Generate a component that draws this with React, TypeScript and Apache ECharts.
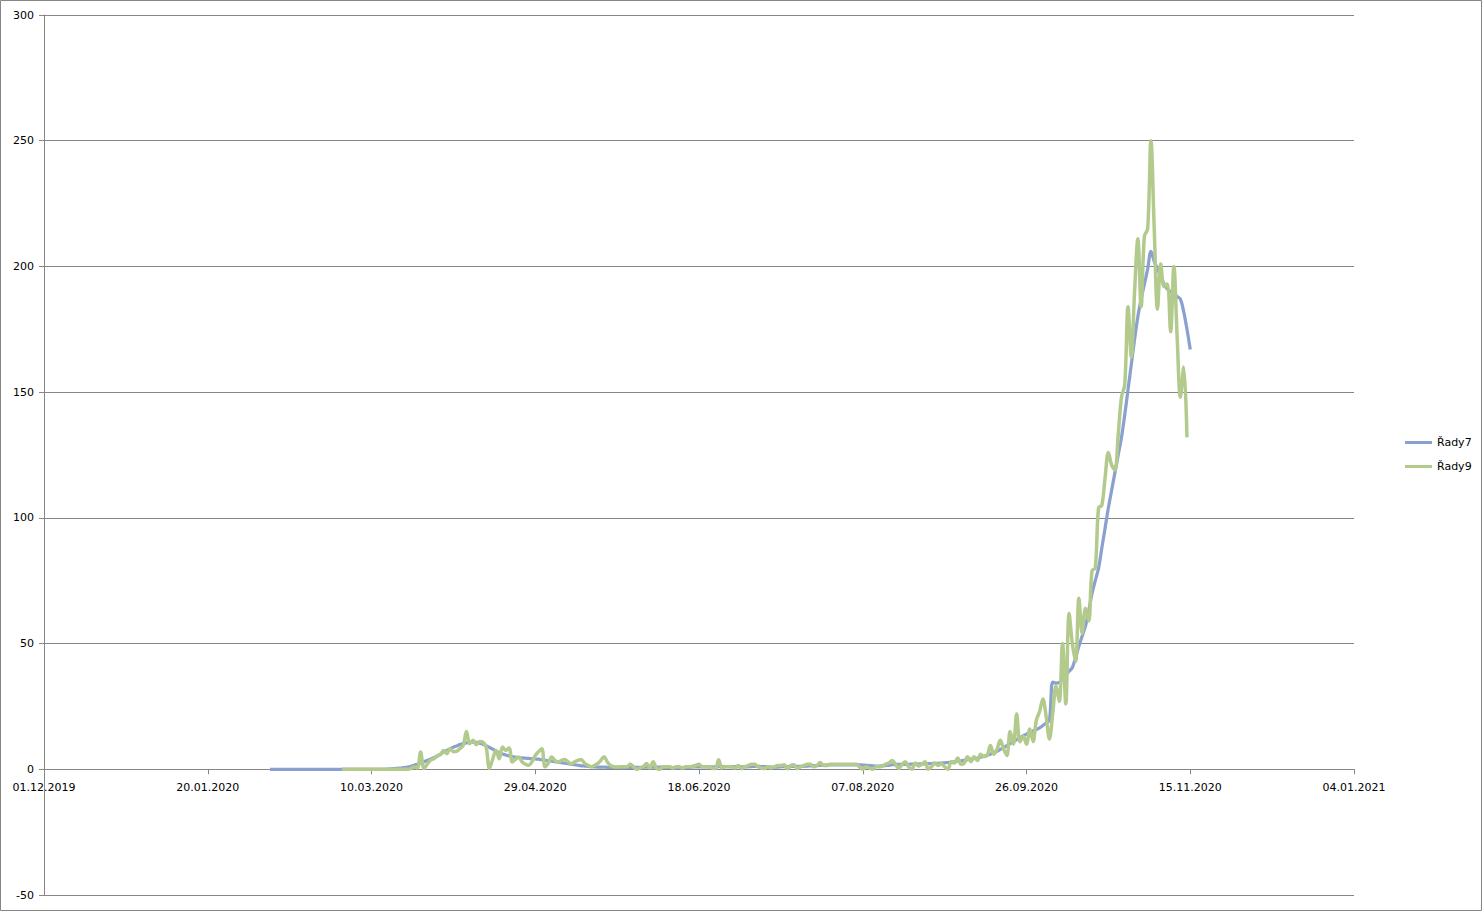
import { useEffect, useRef } from "react";
import * as echarts from "echarts";

// ---- data ----
const seriesNames = ["Řady7", "Řady9"];
const axisOrigin = "2019-12-01";
const xTickDays = 50; // x ticks every 50 days
const xRangeDays = [0, 400]; // 01.12.2019 .. 04.01.2021
const yTicks = [-50, 0, 50, 100, 150, 200, 250, 300];

// Řady7 (7-day average), daily from 08.02.2020
const blueStart = "2020-02-08";
const blueValues = [
  0, 0, 0, 0, 0, 0, 0, 0, 0, 0, 0, 0, 0, 0, 0, 0, 0, 0, 0, 0, 0, 0, 0, 0, 0, 0, 0, 0, 0, 0, 0, 0, 0, 0, 0, 0,
  0.1, 0.2, 0.3, 0.4, 0.5, 0.7, 0.9, 1.2, 1.6, 2, 2.5, 3, 3.5, 4, 4.6, 5.2, 6, 6.8, 7.5, 8.2, 8.8, 9.3, 9.8, 10.2,
  10.5, 10.7, 10.8, 10.7, 10.4, 10, 9.4, 8.7, 8, 7.3, 6.6, 6.1, 5.7, 5.3, 5, 4.8, 4.6, 4.5, 4.4, 4.3, 4.2, 4.1,
  4, 3.8, 3.6, 3.4, 3.2, 3, 2.8, 2.6, 2.4, 2.2, 2, 1.8, 1.6, 1.4, 1.3, 1.2, 1.1, 1, 0.9, 0.9, 0.9, 0.8, 0.8,
  0.8, 0.8, 0.7, 0.7, 0.8, 0.8, 0.8, 0.8, 0.8, 0.8, 0.9, 0.9, 0.9, 0.9, 0.9, 0.8, 0.8, 0.8, 0.7, 0.7, 0.7, 0.7,
  0.8, 0.8, 0.9, 1, 1, 1, 1, 1, 1, 1, 1.1, 1.1, 1.1, 1.1, 1.1, 1.1, 1.1, 1, 1, 1, 1.1, 1.2, 1.2, 1.1, 1.1, 1,
  0.9, 0.9, 0.9, 1, 1.1, 1.1, 1.1, 1.2, 1.2, 1.2, 1.2, 1.3, 1.4, 1.5, 1.5, 1.6, 1.7, 1.7, 1.8, 1.8, 1.8, 1.8,
  1.8, 1.8, 1.8, 1.8, 1.8, 1.8, 1.7, 1.6, 1.5, 1.4, 1.3, 1.3, 1.4, 1.5, 1.6, 1.8, 1.9, 2, 2, 2, 2, 2.1, 2.1,
  2.1, 2.2, 2.2, 2.3, 2.3, 2.4, 2.4, 2.5, 2.6, 2.7, 2.8, 3, 3.2, 3.4, 3.6, 3.8, 4, 4.2, 4.5, 4.8, 5.2, 5.6, 6,
  6.6, 7.2, 7.9, 8.6, 9.4, 10.2, 11, 11.8, 12.6, 13.3, 14, 14.6, 15.2, 15.8, 16.5, 17.4, 18.4, 19.5, 34.7,
  34.3, 34.5, 36, 37.5, 39, 40.5, 44.5, 49, 53, 57, 63, 70, 75, 80, 88, 96, 104, 111, 118, 125, 132, 141, 151,
  161, 171, 180, 187, 193, 199, 206, 202, 199, 196, 193, 191, 190, 189, 188, 187, 182, 175, 167,
];

// Řady9 (daily), from 01.03.2020
const greenStart = "2020-03-01";
const greenValues = [
  0, 0, 0, 0, 0, 0, 0, 0, 0, 0, 0, 0, 0, 0, 0, 0, 0, 0, 0, 0, 0,
  0.3, 0.9, 0.5, 6.9, 0.3, 2, 3.6, 4.2, 5.3, 5.8, 7.5, 6.2, 8.2, 7, 7.2, 8.2, 9.5, 15, 10.2, 11.5, 9.8, 11.1,
  10.8, 8.9, 0.3, 4, 7.5, 4.2, 8.9, 7.5, 8.5, 2.9, 4, 4.9, 2.9, 2, 1.6, 3, 5.5, 7, 8.2, 1, 2.5, 4.9, 3.5, 2.9,
  3.5, 3.9, 3, 2.2, 2.9, 3.5, 3.9, 2.5, 1.6, 1, 1.5, 2.2, 3.5, 5, 2.9, 1.5, 1, 0.9, 1, 1, 1, 2, 1, 0, 0.5, 1,
  2.3, 0.5, 3, 0.5, 0, 1, 1, 1, 0.5, 1, 1, 0.5, 1, 1, 1.2, 1.5, 2, 1, 1, 1, 0.5, 0.3, 3.8, 0.5, 1, 1, 1, 0.5,
  1.5, 0.2, 1, 1.5, 2, 2, 1, 0.5, 0.3, 1, 0.5, 1, 1.5, 1.5, 1.8, 0.2, 1.5, 1.8, 0.2, 1, 1.5, 2, 2, 1, 1.5, 2.7,
  1.5, 1.5, 2, 2, 2, 2, 2, 2, 2, 2, 2, 1, 0, 1, 0.5, 0, 1, 1, 1.3, 2, 2.5, 3.5, 2, 0.3, 2, 3, 1, 0, 2.5, 1.3,
  2, 3, 0, 1, 2.5, 1.5, 2.2, 1, 0, 3, 2.5, 4.5, 2, 2.5, 5, 3, 5, 3.5, 6, 5, 5.5, 9.5, 6, 8, 11.5, 8, 5.5, 15,
  10, 22, 11, 13, 10, 16, 11, 19.5, 23, 28, 21, 12, 22, 33, 27, 50, 26, 62, 50, 43, 68, 54, 64, 59, 79, 80,
  104, 105, 116, 126, 121, 119, 133, 148, 153, 184, 164, 190, 211, 184, 212, 215, 250, 215, 183, 201, 192,
  193, 174, 200, 172, 148, 160, 132,
];

// ---- helpers ----
const DAY_MS = 86400000;
function toUtc(iso: string): number {
  const [y, m, d] = iso.split("-").map(Number);
  return Date.UTC(y, m - 1, d);
}
const originMs = toUtc(axisOrigin);
function dayOffset(iso: string): number {
  return Math.round((toUtc(iso) - originMs) / DAY_MS);
}
function pad(n: number): string {
  return n < 10 ? "0" + n : String(n);
}
function formatDay(d: number): string {
  const dt = new Date(originMs + d * DAY_MS);
  return pad(dt.getUTCDate()) + "." + pad(dt.getUTCMonth() + 1) + "." + dt.getUTCFullYear();
}
function toPairs(start: string, values: number[]): [number, number][] {
  const s = dayOffset(start);
  return values.map((v, i) => [s + i, v]);
}

const GRAY = "#868686";
const FONT = "DejaVu Sans";
const GRID_TOP = 15;
const GRID_BOTTOM_Y = 895;
const W = 1482;
const H = 911;

export default function App() {
  const ref = useRef<HTMLDivElement>(null);
  useEffect(() => {
    if (!ref.current) return;
    const chart = echarts.init(ref.current, undefined, { renderer: "svg" });
    const yMin = yTicks[0];
    const yMax = yTicks[yTicks.length - 1];
    const zeroOffset = -((0 - yMin) / (yMax - yMin)) * (GRID_BOTTOM_Y - GRID_TOP);
    chart.setOption({
      animation: false,
      backgroundColor: "#ffffff",
      graphic: [
        {
          type: "rect",
          shape: { x: 0.5, y: 0.5, width: W - 1, height: H - 1 },
          style: { fill: "none", stroke: GRAY, lineWidth: 1 },
          silent: true,
        },
      ],
      grid: {
        left: 44,
        right: 128,
        top: GRID_TOP,
        bottom: H - GRID_BOTTOM_Y,
        containLabel: false,
        outerBoundsMode: "none",
      },
      legend: {
        orient: "vertical",
        left: 1405,
        top: 436,
        padding: 0,
        icon: "rect",
        itemWidth: 27,
        itemHeight: 3,
        itemGap: 11,
        data: seriesNames,
        textStyle: { color: "#000", fontSize: 11, fontFamily: FONT, lineHeight: 13 },
      },
      xAxis: {
        type: "value",
        min: xRangeDays[0],
        max: xRangeDays[1],
        interval: xTickDays,
        offset: zeroOffset,
        axisLine: { show: true, onZero: false, lineStyle: { color: GRAY, width: 1 } },
        axisTick: { show: true, length: 5, lineStyle: { color: GRAY } },
        axisLabel: {
          color: "#000",
          fontSize: 11,
          fontFamily: FONT,
          margin: 13,
          formatter: (v: number) => formatDay(v),
        },
        splitLine: { show: false },
      },
      yAxis: {
        type: "value",
        min: yMin,
        max: yMax,
        interval: yTicks[1] - yTicks[0],
        axisLine: { show: true, onZero: false, lineStyle: { color: GRAY, width: 1 } },
        axisTick: { show: true, length: 5, lineStyle: { color: GRAY } },
        axisLabel: { color: "#000", fontSize: 11, fontFamily: FONT, margin: 10 },
        splitLine: { show: true, lineStyle: { color: GRAY, width: 1 } },
      },
      series: [
        {
          name: seriesNames[0],
          type: "line",
          data: toPairs(blueStart, blueValues),
          symbol: "none",
          showSymbol: false,
          smooth: 0.35,
          itemStyle: { color: "#8aa1d0" },
          lineStyle: { color: "#8aa1d0", width: 3.25 },
          z: 2,
        },
        {
          name: seriesNames[1],
          type: "line",
          data: toPairs(greenStart, greenValues),
          symbol: "none",
          showSymbol: false,
          smooth: 0.35,
          itemStyle: { color: "#b3ca8d" },
          lineStyle: { color: "#b3ca8d", width: 3.5 },
          z: 3,
        },
      ],
    });
    return () => chart.dispose();
  }, []);
  return (
    <div
      ref={ref}
      style={{ position: "fixed", left: 0, top: 0, width: W, height: H, background: "#fff" }}
    />
  );
}
